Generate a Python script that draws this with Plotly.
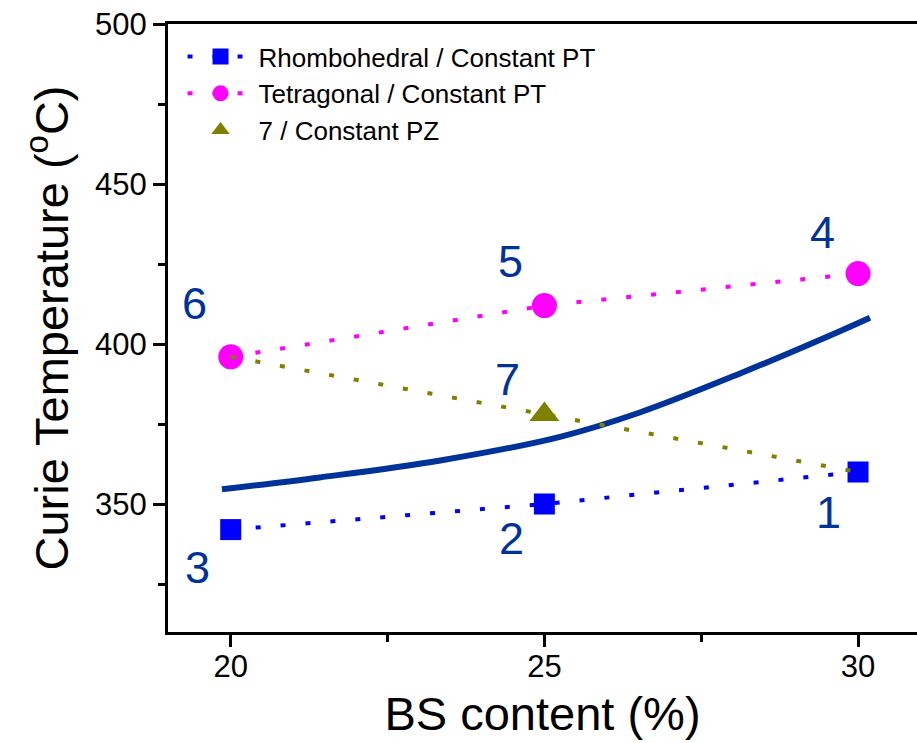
import plotly.graph_objects as go

# ---- data ----
bs_content = [20, 25, 30]
rhombo_tc = [342, 350, 360]          # points 3, 2, 1
tetra_tc = [396, 412, 422]           # points 6, 5, 4
pz_x = [25]
pz_tc = [378]                        # point 7
pz_line_x = [20, 25, 30]
pz_line_tc = [396, 378, 360]         # 6 -> 7 -> 1
curve_x = [19.86, 21.42, 23.34, 25.25, 26.52, 28.12, 29.71, 30.19]
curve_tc = [354.6, 358.3, 363.6, 371.0, 378.6, 390.8, 404.0, 408.2]
label_text = ["1", "2", "3", "4", "5", "6", "7"]
label_x = [30, 25, 20, 30, 25, 20, 25]
label_y = [360, 350, 342, 422, 412, 396, 378]

# ---- styles ----
label_shift = [(-30, -40), (-33, -34), (-33, -38), (-36, 41), (-34, 44), (-36, 53), (-37, 35)]
FONT = "Arial, Liberation Sans, sans-serif"
NAVY = "#003399"
DOT = "5px,20px"

fig = go.Figure()

fig.add_trace(go.Scatter(x=curve_x, y=curve_tc, mode="lines", line=dict(color=NAVY, width=6, shape="spline", smoothing=1),
                         showlegend=False, hoverinfo="skip"))
fig.add_trace(go.Scatter(x=bs_content, y=rhombo_tc, mode="lines+markers", name="Rhombohedral / Constant PT",
                         line=dict(color="#0000FF", width=4, dash=DOT),
                         marker=dict(symbol="square", size=21, color="#0000FF"), legendrank=1))
fig.add_trace(go.Scatter(x=bs_content, y=tetra_tc, mode="lines+markers", name="Tetragonal / Constant PT",
                         line=dict(color="#FF00FF", width=4, dash=DOT),
                         marker=dict(symbol="circle", size=25, color="#FF00FF"), legendrank=2))
fig.add_trace(go.Scatter(x=pz_x, y=pz_tc, mode="markers", name="7 / Constant PZ",
                         marker=dict(symbol="triangle-up", size=26, color="#808000"), legendrank=3))
fig.add_trace(go.Scatter(x=pz_line_x, y=pz_line_tc, mode="lines", line=dict(color="#808000", width=4, dash=DOT),
                         showlegend=False, hoverinfo="skip"))

for t, x, y, (dx, dy) in zip(label_text, label_x, label_y, label_shift):
    fig.add_annotation(x=x, y=y, text=t, showarrow=False, xshift=dx, yshift=dy,
                       font=dict(family=FONT, size=45, color=NAVY))

fig.update_layout(
    width=917, height=743,
    margin=dict(l=168, r=0, t=24, b=111),
    paper_bgcolor="white", plot_bgcolor="white",
    font=dict(family=FONT, color="black"),
    legend=dict(x=0.0194, y=0.985, xanchor="left", yanchor="top", bgcolor="rgba(0,0,0,0)",
                font=dict(family=FONT, size=26, color="black"), itemwidth=66, tracegroupgap=0),
    showlegend=True,
)
fig.update_xaxes(range=[19, 30.94], tickvals=[20, 25, 30], ticks="outside", ticklen=12, tickwidth=3,
                 tickcolor="black", showline=True, linewidth=3, linecolor="black", mirror=True,
                 showgrid=False, zeroline=False, tickfont=dict(size=31, family=FONT), ticklabelstandoff=-7,
                 minor=dict(tickvals=[22.5, 27.5], ticks="outside", ticklen=7, tickwidth=3, tickcolor="black"),
                 title=dict(text="BS content (%)", font=dict(size=47, family=FONT), standoff=14))
fig.update_yaxes(range=[310, 500], tickvals=[350, 400, 450, 500], ticks="outside", ticklen=12, tickwidth=3,
                 tickcolor="black", showline=True, linewidth=3, linecolor="black",
                 showgrid=False, zeroline=False, tickfont=dict(size=31, family=FONT),
                 minor=dict(tickvals=[325, 375, 425, 475], ticks="outside", ticklen=7, tickwidth=3, tickcolor="black"),
                 title=dict(text="Curie Temperature (<sup>o</sup>C)", font=dict(size=47, family=FONT), standoff=12))

fig.write_html("out.html")
